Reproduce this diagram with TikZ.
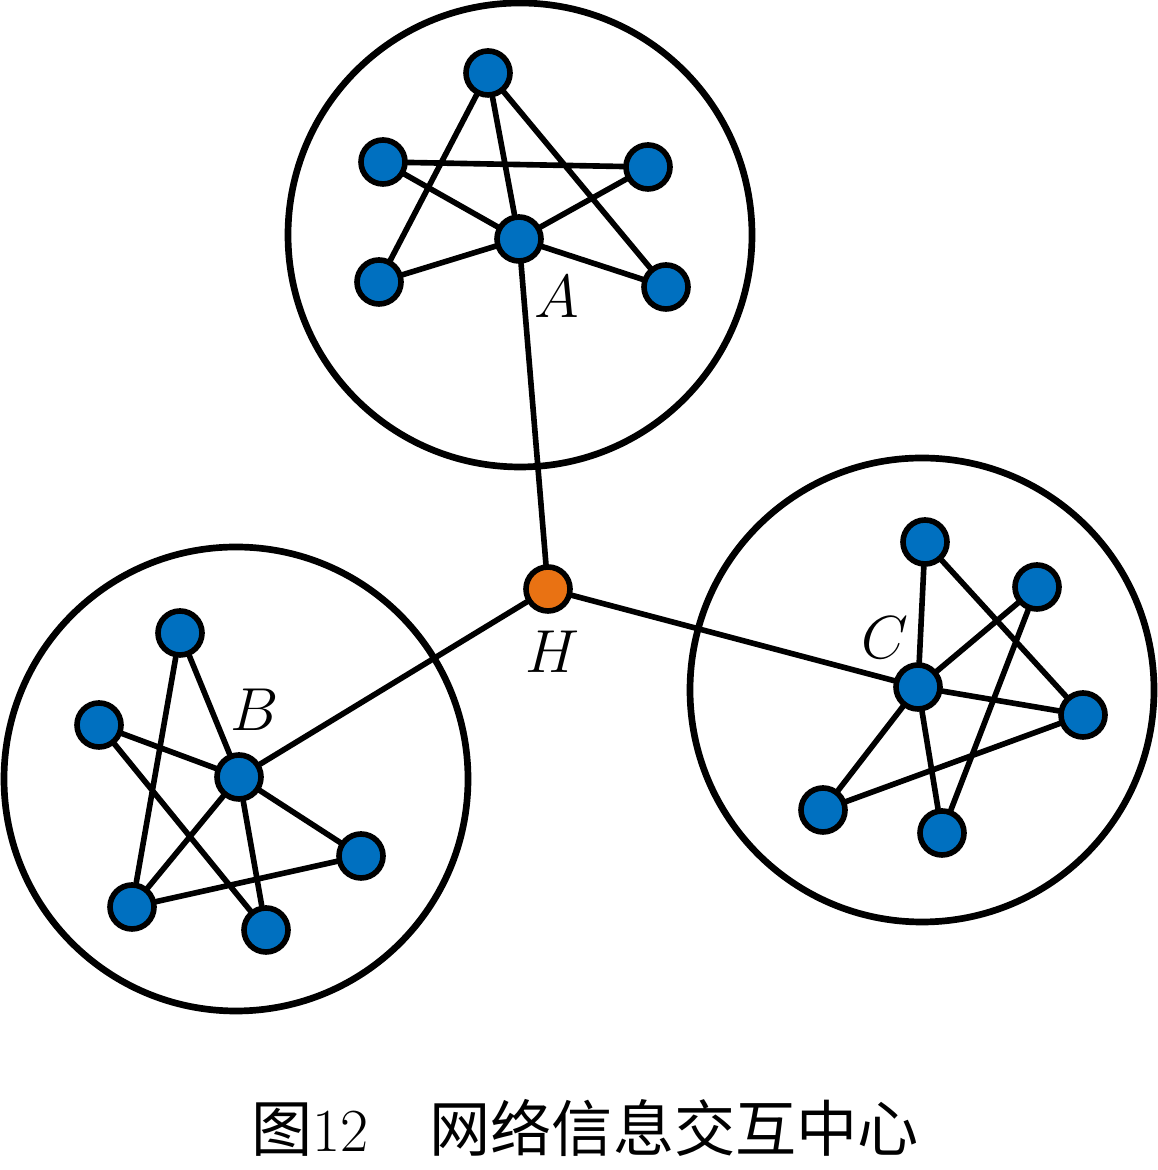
\documentclass[tikz,border=0pt]{standalone}
\usepackage{amsmath,amssymb}
\usepackage{xcolor}
\usepackage{fontspec}
\newfontfamily\cjk{Noto Sans CJK SC}
\usepackage{tikz}
\usetikzlibrary{calc}
\definecolor{text}{HTML}{000000}
\definecolor{blue}{HTML}{0070C0}
\definecolor{orange}{HTML}{E97213}
\tikzset{
  ring/.style={draw=text, line width=1.9pt},
  link/.style={draw=text, line width=1.6pt, line cap=round},
  dot/.style={circle, draw=text, line width=1.6pt, fill=blue, minimum size=0.44cm, inner sep=0pt},
  hub/.style={dot, fill=orange},
  lab/.style={text=text, font=\fontsize{17.4}{20}\selectfont},
}
\begin{document}
\begin{tikzpicture}
  \useasboundingbox (0,0) rectangle (11.57,11.70);
  \def\rR{2.32}
  \coordinate (OA) at (5.20,9.35);
  \coordinate (OB) at (2.36,3.91);
  \coordinate (OC) at (9.22,4.80);
  \draw[ring] (OA) circle (\rR);
  \draw[ring] (OB) circle (\rR);
  \draw[ring] (OC) circle (\rR);
  % cluster A
  \node[dot] (A1) at (4.88,10.97) {};
  \node[dot] (A2) at (3.83,10.08) {};
  \node[dot] (A3) at (6.48,10.03) {};
  \node[dot] (A0) at (5.19,9.31) {};
  \node[dot] (A4) at (3.79,8.88) {};
  \node[dot] (A5) at (6.66,8.83) {};
  % cluster B
  \node[dot] (B1) at (1.80,5.37) {};
  \node[dot] (B2) at (0.99,4.45) {};
  \node[dot] (B0) at (2.39,3.93) {};
  \node[dot] (B3) at (3.61,3.14) {};
  \node[dot] (B4) at (1.32,2.63) {};
  \node[dot] (B5) at (2.66,2.40) {};
  % cluster C
  \node[dot] (C1) at (9.25,6.28) {};
  \node[dot] (C2) at (10.37,5.83) {};
  \node[dot] (C0) at (9.18,4.83) {};
  \node[dot] (C3) at (10.83,4.55) {};
  \node[dot] (C4) at (8.23,3.60) {};
  \node[dot] (C5) at (9.42,3.37) {};
  \node[hub] (H) at (5.48,5.81) {};
  \draw[link] (A1)--(A0) (A1)--(A4) (A1)--(A5) (A2)--(A3)
              (A2)--(A0) (A3)--(A0) (A0)--(A4) (A0)--(A5);
  \draw[link] (B1)--(B0) (B1)--(B4) (B2)--(B0) (B2)--(B5)
              (B0)--(B3) (B0)--(B4) (B0)--(B5) (B4)--(B3);
  \draw[link] (C1)--(C0) (C1)--(C3) (C2)--(C0) (C2)--(C5)
              (C0)--(C3) (C0)--(C4) (C0)--(C5) (C4)--(C3);
  \draw[link] (A0)--(H) (B0)--(H) (C0)--(H);
  \node[lab] (labA) at (5.57,8.73) {$A$};
  \node[lab] (labB) at (2.55,4.60) {$B$};
  \node[lab] (labC) at (8.85,5.32) {$C$};
  \node[lab] (labH) at (5.52,5.18) {$H$};
  \node[lab] (cap) at (5.85,0.42) {{\cjk 图}12{\cjk 　网络信息交互中心}};
\end{tikzpicture}
\end{document}
